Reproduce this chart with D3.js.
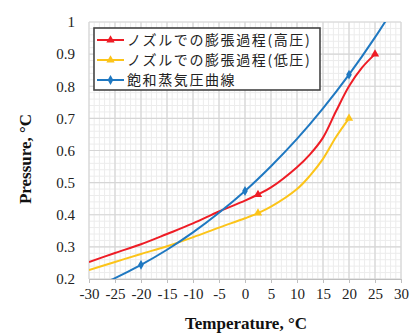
<!DOCTYPE html>
<html><head><meta charset="utf-8">
<script src="https://cdn.jsdelivr.net/npm/d3@7"></script>
<style>body{margin:0;background:#fff}svg{display:block}</style>
</head><body>
<svg id="c" width="410" height="336"></svg>
<script>
const xTicks = [-30,-25,-20,-15,-10,-5,0,5,10,15,20,25,30];
const xTickLabels = ["-30","-25","-20","-15","-10","-5","0","5","10","15","20","25","30"];
const yTicks = [0.2,0.3,0.4,0.5,0.6,0.7,0.8,0.9,1];
const yTickLabels = ["0.2","0.3","0.4","0.5","0.6","0.7","0.8","0.9","1"];
const seriesNames = ["ノズルでの膨張過程(高圧)","ノズルでの膨張過程(低圧)","飽和蒸気圧曲線"];
const seriesColors = ["#ee1c25","#fcc419","#1f78c1"];
// high-pressure nozzle expansion
const highT = [-30,-25,-20,-15,-10,-5,0,2.5,5,10,12.5,15,17.5,20,22.5,25];
const highP = [0.253,0.281,0.308,0.34,0.373,0.41,0.444,0.463,0.485,0.548,0.588,0.640,0.722,0.80,0.858,0.90];
const highMarkT = [2.5,25];
const highMarkP = [0.463,0.90];
// low-pressure nozzle expansion
const lowT = [-30,-25,-20,-15,-10,-5,0,2.5,5,10,12.5,15,17.5,20];
const lowP = [0.228,0.253,0.278,0.302,0.330,0.36,0.389,0.405,0.425,0.480,0.522,0.574,0.642,0.70];
const lowMarkT = [2.5,20];
const lowMarkP = [0.405,0.70];
// saturated vapour pressure curve
const satT = [-30,-25,-20,-15,-10,-5,0,5,10,15,20,25,30];
const satP = [0.168,0.203,0.244,0.291,0.345,0.406,0.474,0.551,0.636,0.731,0.836,0.952,1.079];
const satMarkT = [-20,0,20];
const satMarkP = [0.244,0.474,0.836];

const svg = d3.select("#c");
const L=89,R=401,T=22,B=279;
const x = d3.scaleLinear().domain([-30,30]).range([L,R]);
const y = d3.scaleLinear().domain([0.2,1]).range([B,T]);

// minor grid
const g = svg.append("g");
g.selectAll(".vx").data(d3.range(-30,31,1)).enter().append("line")
 .attr("x1",d=>x(d)).attr("x2",d=>x(d)).attr("y1",T).attr("y2",B)
 .attr("stroke","#ececec").attr("stroke-width",1);
g.selectAll(".vy").data(d3.range(0,41).map(i=>0.2+i*0.02)).enter().append("line")
 .attr("y1",d=>y(d)).attr("y2",d=>y(d)).attr("x1",L).attr("x2",R)
 .attr("stroke","#ececec").attr("stroke-width",1);
// major grid
g.selectAll(".mx").data(xTicks).enter().append("line")
 .attr("x1",d=>x(d)).attr("x2",d=>x(d)).attr("y1",T).attr("y2",B)
 .attr("stroke","#d6d6d6").attr("stroke-width",1.2);
g.selectAll(".my").data(yTicks).enter().append("line")
 .attr("y1",d=>y(d)).attr("y2",d=>y(d)).attr("x1",L).attr("x2",R)
 .attr("stroke","#d6d6d6").attr("stroke-width",1.2);

// axes
const xAxis = d3.axisBottom(x).tickValues(xTicks).tickFormat((d,i)=>xTickLabels[i]).tickSize(4).tickPadding(5);
const ax = svg.append("g").attr("transform",`translate(0,${B})`).call(xAxis)
 .attr("font-family","Liberation Serif").attr("font-size",15);
ax.select(".domain").attr("stroke","#bfbfbf");
ax.selectAll(".tick line").attr("stroke","#bfbfbf");
ax.selectAll("text").attr("fill","#222");
const yAxis = d3.axisLeft(y).tickValues(yTicks).tickFormat((d,i)=>yTickLabels[i]).tickSize(0).tickPadding(14);
const ay = svg.append("g").attr("transform",`translate(${L},0)`).call(yAxis)
 .attr("font-family","Liberation Serif").attr("font-size",15);
ay.select(".domain").remove();
ay.selectAll("text").attr("fill","#222");

// curves
svg.append("clipPath").attr("id","pa").append("rect")
 .attr("x",L).attr("y",T).attr("width",R-L).attr("height",B-T);
const line = d3.line().x(d=>x(d[0])).y(d=>y(d[1])).curve(d3.curveCatmullRom.alpha(0.5));
const plot = svg.append("g").attr("clip-path","url(#pa)");
const series = [
 {T:highT,P:highP,mT:highMarkT,mP:highMarkP,c:seriesColors[0],sym:d3.symbolTriangle},
 {T:lowT,P:lowP,mT:lowMarkT,mP:lowMarkP,c:seriesColors[1],sym:d3.symbolTriangle},
 {T:satT,P:satP,mT:satMarkT,mP:satMarkP,c:seriesColors[2],sym:d3.symbolDiamond}
];
series.forEach(s=>{
  plot.append("path").datum(s.T.map((t,i)=>[t,s.P[i]]))
   .attr("d",line).attr("fill","none").attr("stroke",s.c).attr("stroke-width",2);
});
series.forEach(s=>{
  svg.selectAll(null).data(s.mT.map((t,i)=>[t,s.mP[i]])).enter().append("path")
   .attr("d",d3.symbol().type(s.sym).size(s.sym===d3.symbolTriangle?30:28))
   .attr("transform",d=>`translate(${x(d[0])},${y(d[1])})`)
   .attr("fill",s.c);
});

// legend
const lg = svg.append("g");
lg.append("rect").attr("x",94).attr("y",28).attr("width",226).attr("height",62)
 .attr("fill","#fff").attr("stroke","#444").attr("stroke-width",1.6);
series.forEach((s,i)=>{
  const yy = 40+i*20;
  lg.append("line").attr("x1",97).attr("x2",124).attr("y1",yy).attr("y2",yy)
   .attr("stroke",s.c).attr("stroke-width",2);
  lg.append("path").attr("d",d3.symbol().type(s.sym).size(s.sym===d3.symbolTriangle?30:28))
   .attr("transform",`translate(110.5,${yy})`).attr("fill",s.c);
  lg.append("text").attr("x",127).attr("y",yy+5).text(seriesNames[i])
   .attr("font-family","Noto Sans CJK JP").attr("font-size",14).attr("letter-spacing",1.6)
   .attr("fill","#222");
});

// titles
svg.append("text").attr("x",246).attr("y",329).attr("text-anchor","middle")
 .attr("font-family","Liberation Serif").attr("font-weight","bold").attr("font-size",17)
 .attr("fill","#111").text("Temperature, °C");
svg.append("text").attr("transform","translate(31,159) rotate(-90)").attr("text-anchor","middle")
 .attr("font-family","Liberation Serif").attr("font-weight","bold").attr("font-size",17)
 .attr("fill","#111").text("Pressure, °C");
</script>
</body></html>
